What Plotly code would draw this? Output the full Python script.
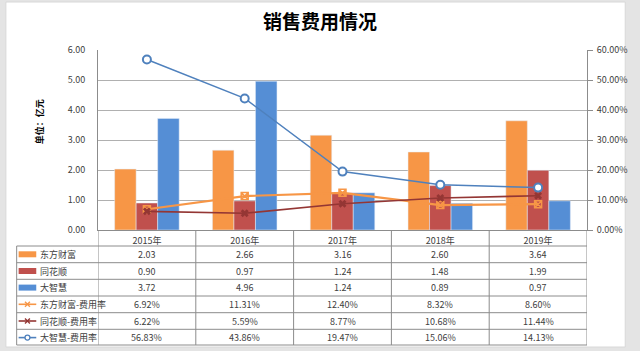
import plotly.graph_objects as go

years = ["2015年", "2016年", "2017年", "2018年", "2019年"]
dfcf = [2.03, 2.66, 3.16, 2.60, 3.64]
ths = [0.90, 0.97, 1.24, 1.48, 1.99]
dzh = [3.72, 4.96, 1.24, 0.89, 0.97]
dfcf_rate = [6.92, 11.31, 12.40, 8.32, 8.60]
ths_rate = [6.22, 5.59, 8.77, 10.68, 11.44]
dzh_rate = [56.83, 43.86, 19.47, 15.06, 14.13]

W, H = 640, 351
L, R, T, B = 98, 597, 50, 230

def px(x):
    return (x - L) / (R - L)

def py(y):
    return (B - y) / (B - T)

C_OR = "#F79646"
C_RD = "#C0504D"
C_BL = "#558ED5"
C_LOR = "#F79646"
C_LRD = "#943634"
C_LBL = "#4F81BD"
FONT = "Noto Sans CJK SC, sans-serif"
TXT = "#404040"
GRID = "#B0B0B0"
TLINE = "#8C8C8C"

fig = go.Figure()
fig.add_bar(x=years, y=dfcf, name="东方财富", marker_color=C_OR, yaxis="y")
fig.add_bar(x=years, y=ths, name="同花顺", marker_color=C_RD, yaxis="y")
fig.add_bar(x=years, y=dzh, name="大智慧", marker_color=C_BL, yaxis="y")
fig.add_scatter(x=years, y=dfcf_rate, name="东方财富-费用率", yaxis="y2", mode="lines+markers",
                line=dict(color=C_LOR, width=2.2),
                marker=dict(symbol="square-x-open", size=7, color=C_LOR, line=dict(width=1.5)))
fig.add_scatter(x=years, y=ths_rate, name="同花顺-费用率", yaxis="y2", mode="lines+markers",
                line=dict(color=C_LRD, width=1.6),
                marker=dict(symbol="x", size=7, color=C_LRD))
fig.add_scatter(x=years, y=dzh_rate, name="大智慧-费用率", yaxis="y2", mode="lines+markers",
                line=dict(color=C_LBL, width=1.5),
                marker=dict(symbol="circle", size=8, color="white", line=dict(color=C_LBL, width=2)))

shapes = []
annotations = []

# outer white panel
shapes.append(dict(type="rect", xref="paper", yref="paper", layer="below",
                   x0=px(4), x1=px(636), y0=py(347), y1=py(2),
                   fillcolor="white", line=dict(color="#D8D8D8", width=1)))

# table horizontal lines
row_lines = [246, 262.7, 279.3, 296, 312.7, 329.3, 345]
for yl in row_lines:
    shapes.append(dict(type="line", xref="paper", yref="paper",
                       x0=px(15), x1=px(R), y0=py(yl), y1=py(yl),
                       line=dict(color=TLINE, width=1)))
# left border of table
shapes.append(dict(type="line", xref="paper", yref="paper",
                   x0=px(15), x1=px(15), y0=py(246), y1=py(345),
                   line=dict(color=TLINE, width=1)))
# column separators via category axis
for i in range(len(years) + 1):
    shapes.append(dict(type="line", xref="x", yref="paper",
                       x0=i - 0.5, x1=i - 0.5, y0=py(B), y1=py(345),
                       line=dict(color=TLINE, width=1)))

row_centers = [254.3, 271, 287.6, 304.3, 321, 337.6]
labels = ["东方财富", "同花顺", "大智慧", "东方财富-费用率", "同花顺-费用率", "大智慧-费用率"]
series = [dfcf, ths, dzh, dfcf_rate, ths_rate, dzh_rate]
fmts = ["{:.2f}", "{:.2f}", "{:.2f}", "{:.2f}%", "{:.2f}%", "{:.2f}%"]

for r, (lab, vals, fmt) in enumerate(zip(labels, series, fmts)):
    yc = row_centers[r]
    annotations.append(dict(text=lab, xref="paper", yref="paper", x=px(37), y=py(yc),
                            xanchor="left", yanchor="middle", showarrow=False,
                            font=dict(family=FONT, size=9, color=TXT)))
    for i, v in enumerate(vals):
        annotations.append(dict(text=fmt.format(v), xref="x", yref="paper", x=years[i], y=py(yc),
                                xanchor="center", yanchor="middle", showarrow=False,
                                font=dict(family=FONT, size=9, color=TXT)))

# legend keys in table
bar_cols = [C_OR, C_RD, C_BL]
for r in range(3):
    yc = row_centers[r]
    shapes.append(dict(type="rect", xref="paper", yref="paper",
                       x0=px(17), x1=px(35), y0=py(yc + 3), y1=py(yc - 3),
                       fillcolor=bar_cols[r], line=dict(width=0)))
line_cols = [C_LOR, C_LRD, C_LBL]
for k in range(3):
    yc = row_centers[3 + k]
    c = line_cols[k]
    shapes.append(dict(type="line", xref="paper", yref="paper",
                       x0=px(17), x1=px(35), y0=py(yc), y1=py(yc),
                       line=dict(color=c, width=1.6)))
    if k == 2:
        shapes.append(dict(type="circle", xref="paper", yref="paper",
                           x0=px(23.5), x1=px(28.5), y0=py(yc + 2.5), y1=py(yc - 2.5),
                           fillcolor="white", line=dict(color=c, width=1.3)))
    else:
        for a, b in [((23.5, yc - 2.5), (28.5, yc + 2.5)), ((23.5, yc + 2.5), (28.5, yc - 2.5))]:
            shapes.append(dict(type="line", xref="paper", yref="paper",
                               x0=px(a[0]), y0=py(a[1]), x1=px(b[0]), y1=py(b[1]),
                               line=dict(color=c, width=1.3)))

# y axis unit label
annotations.append(dict(text="<b>单位：亿元</b>", xref="paper", yref="paper",
                        x=px(38), y=py(122), textangle=-90, showarrow=False,
                        xanchor="center", yanchor="middle",
                        font=dict(family=FONT, size=9, color="#000000")))

fig.update_layout(
    width=W, height=H,
    margin=dict(l=L, r=W - R, t=T, b=H - B, pad=0),
    paper_bgcolor="#E4E4E4",
    plot_bgcolor="white",
    showlegend=False,
    barmode="group",
    bargap=0.34,
    bargroupgap=0,
    title=dict(text="<b>销售费用情况</b>", x=0.5, xanchor="center", y=1 - 22 / H, yanchor="middle",
               font=dict(family=FONT, size=19, color="#000000")),
    xaxis=dict(type="category", showgrid=False, showline=True, linecolor=TLINE, linewidth=1,
               ticks="", tickfont=dict(family=FONT, size=9, color=TXT), ticklabelstandoff=2,
               range=[-0.5, 4.5]),
    yaxis=dict(range=[0, 6], dtick=1, tickformat=".2f", showgrid=True, gridcolor=GRID, gridwidth=1,
               showline=True, linecolor=TLINE, linewidth=1, ticks="", zeroline=False,
               tickfont=dict(family=FONT, size=9, color=TXT), ticklabelstandoff=10),
    yaxis2=dict(range=[0, 60], dtick=10, tickformat=".2f", ticksuffix="%", overlaying="y", side="right",
                showgrid=False, showline=True, linecolor=TLINE, linewidth=1, zeroline=False,
                ticks="outside", ticklen=5, tickcolor=TLINE,
                tickfont=dict(family=FONT, size=9, color=TXT), ticklabelstandoff=2),
    shapes=shapes,
    annotations=annotations,
)

fig.write_html("out.html")
